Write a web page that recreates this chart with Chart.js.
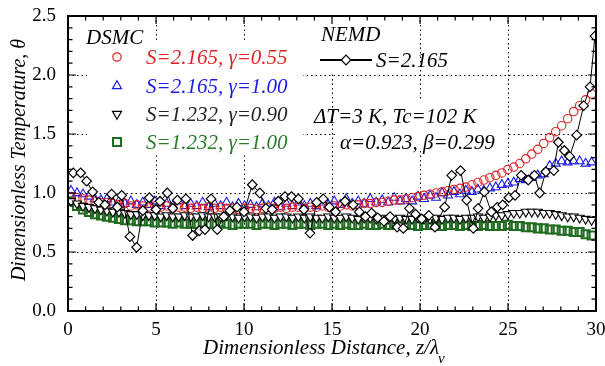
<!DOCTYPE html>
<html>
<head>
<meta charset="utf-8">
<script src="https://cdn.jsdelivr.net/npm/chart.js@4.4.0/dist/chart.umd.min.js"></script>
<style>
  html, body { margin: 0; padding: 0; background: #fff; }
</style>
</head>
<body>
<canvas id="chart" width="605" height="366"></canvas>
<script>
// DSMC sample positions (z / lambda_v)
const dsmcX = [
  0.17, 0.51, 0.85, 1.19, 1.53, 1.87, 2.21, 2.55, 2.89, 3.23,
  3.57, 3.91, 4.25, 4.59, 4.93, 5.27, 5.61, 5.95, 6.29, 6.63,
  6.97, 7.31, 7.65, 7.99, 8.33, 8.67, 9.01, 9.35, 9.69, 10.03,
  10.37, 10.71, 11.05, 11.39, 11.73, 12.07, 12.41, 12.75, 13.09, 13.43,
  13.77, 14.11, 14.45, 14.79, 15.13, 15.47, 15.81, 16.15, 16.49, 16.83,
  17.17, 17.51, 17.85, 18.19, 18.53, 18.87, 19.21, 19.55, 19.89, 20.23,
  20.57, 20.91, 21.25, 21.59, 21.93, 22.27, 22.61, 22.95, 23.29, 23.63,
  23.97, 24.31, 24.65, 24.99, 25.33, 25.67, 26.01, 26.35, 26.69, 27.03,
  27.37, 27.71, 28.05, 28.39, 28.73, 29.07, 29.41, 29.75
];

// S=2.165, gamma=0.55
const redY = [
  0.97, 0.96, 0.95, 0.94, 0.93, 0.92, 0.92, 0.91, 0.90, 0.91,
  0.89, 0.90, 0.89, 0.88, 0.89, 0.88, 0.89, 0.87, 0.88, 0.88,
  0.87, 0.88, 0.87, 0.88, 0.87, 0.88, 0.87, 0.87, 0.86, 0.87,
  0.87, 0.86, 0.87, 0.88, 0.87, 0.88, 0.87, 0.88, 0.88, 0.87,
  0.88, 0.88, 0.89, 0.88, 0.89, 0.89, 0.90, 0.89, 0.90, 0.91,
  0.91, 0.92, 0.92, 0.93, 0.94, 0.94, 0.95, 0.96, 0.97, 0.98,
  0.99, 1.00, 1.01, 1.02, 1.03, 1.04, 1.05, 1.07, 1.09, 1.11,
  1.13, 1.15, 1.17, 1.20, 1.22, 1.25, 1.29, 1.33, 1.37, 1.42,
  1.47, 1.52, 1.57, 1.63, 1.69, 1.74, 1.79, 1.84
];

// S=2.165, gamma=1.00
const blueY = [
  1.02, 1.00, 0.99, 0.97, 0.95, 0.94, 0.95, 0.92, 0.93, 0.91,
  0.93, 0.90, 0.92, 0.90, 0.93, 0.89, 0.91, 0.89, 0.93, 0.89,
  0.91, 0.89, 0.92, 0.88, 0.91, 0.89, 0.92, 0.88, 0.91, 0.89,
  0.90, 0.88, 0.91, 0.89, 0.92, 0.88, 0.91, 0.89, 0.92, 0.89,
  0.91, 0.89, 0.92, 0.90, 0.93, 0.90, 0.95, 0.91, 0.93, 0.91,
  0.95, 0.92, 0.94, 0.92, 0.96, 0.93, 0.95, 0.93, 0.97, 0.95,
  0.98, 0.96, 1.00, 0.98, 1.01, 0.99, 1.02, 1.01, 1.03, 1.02,
  1.04, 1.05, 1.07, 1.08, 1.09, 1.12, 1.11, 1.13, 1.15, 1.16,
  1.23, 1.25, 1.27, 1.26, 1.27, 1.27, 1.25, 1.26
];

// S=1.232, gamma=0.90
const blackY = [
  0.93, 0.91, 0.89, 0.88, 0.87, 0.86, 0.85, 0.84, 0.84, 0.83,
  0.82, 0.82, 0.81, 0.81, 0.81, 0.80, 0.81, 0.80, 0.80, 0.81,
  0.80, 0.80, 0.81, 0.80, 0.80, 0.80, 0.81, 0.80, 0.79, 0.80,
  0.80, 0.79, 0.80, 0.80, 0.79, 0.80, 0.80, 0.79, 0.80, 0.79,
  0.80, 0.79, 0.79, 0.80, 0.79, 0.79, 0.80, 0.79, 0.78, 0.79,
  0.79, 0.78, 0.79, 0.78, 0.78, 0.79, 0.78, 0.78, 0.79, 0.78,
  0.78, 0.79, 0.78, 0.79, 0.79, 0.78, 0.79, 0.79, 0.80, 0.79,
  0.80, 0.81, 0.81, 0.82, 0.83, 0.83, 0.84, 0.84, 0.84, 0.83,
  0.83, 0.82, 0.81, 0.80, 0.80, 0.79, 0.78, 0.77
];

// S=1.232, gamma=1.00
const greenY = [
  0.93, 0.89, 0.86, 0.84, 0.82, 0.81, 0.80, 0.79, 0.78, 0.77,
  0.77, 0.76, 0.76, 0.76, 0.75, 0.75, 0.75, 0.74, 0.75, 0.74,
  0.74, 0.74, 0.75, 0.74, 0.74, 0.75, 0.74, 0.73, 0.74, 0.74,
  0.74, 0.73, 0.74, 0.74, 0.73, 0.74, 0.74, 0.73, 0.74, 0.74,
  0.73, 0.74, 0.74, 0.73, 0.74, 0.73, 0.74, 0.73, 0.73, 0.74,
  0.73, 0.73, 0.74, 0.73, 0.73, 0.74, 0.73, 0.73, 0.72, 0.73,
  0.73, 0.73, 0.72, 0.73, 0.73, 0.72, 0.73, 0.72, 0.72, 0.73,
  0.72, 0.72, 0.72, 0.73, 0.72, 0.72, 0.71, 0.71, 0.70, 0.70,
  0.69, 0.69, 0.68, 0.68, 0.67, 0.67, 0.65, 0.64
];

// NEMD, S=2.165
const nemdX = [
  0.30, 0.72, 1.06, 1.40, 1.75, 2.10, 2.48, 2.80, 3.05, 3.52,
  3.90, 4.25, 4.62, 5.00, 5.23, 5.64, 5.95, 6.21, 6.70, 7.08,
  7.46, 7.78, 8.13, 8.48, 8.85, 9.20, 9.60, 10.00, 10.47, 10.90,
  11.25, 11.60, 11.95, 12.33, 12.70, 13.09, 13.40, 13.75, 14.13, 14.50,
  14.85, 15.20, 15.74, 16.20, 16.55, 16.90, 17.25, 17.60, 17.95, 18.30,
  18.70, 19.05, 19.40, 19.75, 20.10, 20.50, 20.85, 21.40, 21.80, 22.30,
  22.65, 23.03, 23.30, 23.65, 24.05, 24.40, 24.70, 25.05, 25.40, 25.75,
  26.15, 26.50, 26.80, 27.15, 27.60, 27.86, 28.20, 28.50, 28.90, 29.30,
  29.66, 29.94
];
const nemdY = [
  1.17, 1.17, 1.10, 1.01, 0.92, 0.90, 0.99, 0.88, 0.98, 0.63,
  0.54, 0.85, 0.96, 0.86, 0.93, 1.00, 0.87, 0.94, 0.95, 0.64,
  0.68, 0.69, 0.95, 0.69, 0.80, 0.85, 0.88, 0.84, 1.07, 1.00,
  0.87, 0.86, 0.93, 0.97, 0.97, 0.95, 0.86, 0.66, 0.92, 0.95,
  0.88, 0.84, 0.93, 0.90, 0.84, 0.80, 0.83, 0.79, 0.76, 0.80,
  0.71, 0.70, 0.87, 0.82, 0.78, 0.81, 0.71, 0.88, 1.15, 1.19,
  0.94, 0.70, 0.87, 1.01, 0.84, 0.88, 0.90, 0.96, 0.98, 1.15,
  1.11, 1.15, 1.00, 1.18, 1.19, 1.43, 1.36, 1.31, 1.49, 1.74,
  1.90, 2.33
];

const xTicks = [0, 5, 10, 15, 20, 25, 30];
const yTicks = [0.0, 0.5, 1.0, 1.5, 2.0, 2.5];

const RED = "#dc2323", BLUE = "#1a1ae6", GREEN = "#1f6b1f", GREEN_TXT = "#2a7a2a";
const SERIF = "'Liberation Serif', 'Times New Roman', serif";

function pts(xs, ys) {
  return xs.map((x, i) => ({ x: x, y: ys[i] }));
}

// white boxes behind the annotation text (hide the grid there)
const boxes = [
  [87, 43, 216, 112],
  [305, 18, 105, 54],
  [337, 100, 170, 50],
];

function mark(ctx, type, x, y, color) {
  ctx.save();
  ctx.strokeStyle = color;
  ctx.fillStyle = "#fff";
  ctx.lineWidth = 1.2;
  ctx.beginPath();
  if (type === "circle") {
    ctx.arc(x, y, 4.2, 0, Math.PI * 2);
    ctx.stroke();
  } else if (type === "up" || type === "down") {
    const r = 5.2, s = type === "up" ? 1 : -1;
    ctx.moveTo(x, y - s * r);
    ctx.lineTo(x + r * 0.866, y + s * r * 0.5);
    ctx.lineTo(x - r * 0.866, y + s * r * 0.5);
    ctx.closePath();
    if (type === "down") ctx.fill();
    ctx.stroke();
  } else if (type === "square") {
    ctx.lineWidth = 2;
    ctx.rect(x - 4, y - 4, 8, 8);
    ctx.stroke();
  } else if (type === "diamond") {
    ctx.moveTo(x, y - 4.8);
    ctx.lineTo(x + 4.8, y);
    ctx.lineTo(x, y + 4.8);
    ctx.lineTo(x - 4.8, y);
    ctx.closePath();
    ctx.fill();
    ctx.stroke();
  }
  ctx.restore();
}

const decor = {
  id: "decor",
  beforeDatasetsDraw(chart) {
    const { ctx, chartArea: a, scales } = chart;
    ctx.save();
    ctx.strokeStyle = "#000";
    ctx.lineWidth = 1;
    ctx.setLineDash([1.5, 3]);
    xTicks.forEach((v) => {
      if (v <= 0 || v >= 30) return;
      const px = Math.round(scales.x.getPixelForValue(v)) + 0.5;
      ctx.beginPath(); ctx.moveTo(px, a.top); ctx.lineTo(px, a.bottom); ctx.stroke();
    });
    yTicks.forEach((v) => {
      if (v <= 0 || v >= 2.5) return;
      const py = Math.round(scales.y.getPixelForValue(v)) + 0.5;
      ctx.beginPath(); ctx.moveTo(a.left, py); ctx.lineTo(a.right, py); ctx.stroke();
    });
    ctx.setLineDash([]);
    ctx.fillStyle = "#fff";
    boxes.forEach((b) => ctx.fillRect(b[0], b[1], b[2], b[3]));
    ctx.restore();
  },
  afterDraw(chart) {
    const { ctx, chartArea: a, scales } = chart;
    ctx.save();
    // frame
    ctx.strokeStyle = "#000";
    ctx.lineWidth = 2;
    ctx.strokeRect(a.left, a.top, a.right - a.left, a.bottom - a.top);
    // inward ticks, major and minor, on all four sides
    ctx.lineWidth = 1.2;
    for (let v = 0; v <= 30; v++) {
      const px = scales.x.getPixelForValue(v);
      const len = v % 5 === 0 ? 8 : 4.5;
      ctx.beginPath();
      ctx.moveTo(px, a.bottom); ctx.lineTo(px, a.bottom - len);
      ctx.moveTo(px, a.top); ctx.lineTo(px, a.top + len);
      ctx.stroke();
    }
    for (let k = 0; k <= 25; k++) {
      const py = scales.y.getPixelForValue(k / 10);
      const len = k % 5 === 0 ? 8 : 4.5;
      ctx.beginPath();
      ctx.moveTo(a.left, py); ctx.lineTo(a.left + len, py);
      ctx.moveTo(a.right, py); ctx.lineTo(a.right - len, py);
      ctx.stroke();
    }

    // axis titles
    ctx.fillStyle = "#000";
    ctx.font = "italic 20px " + SERIF;
    ctx.textBaseline = "middle";
    ctx.textAlign = "center";
    ctx.save();
    ctx.translate(20, 160);
    ctx.rotate(-Math.PI / 2);
    ctx.fillText("Dimensionless Temperature, \u03b8", 0, 0);
    ctx.restore();

    ctx.font = "italic 21px " + SERIF;
    const xt = "Dimensionless Distance, z/\u03bb";
    const w = ctx.measureText(xt).width;
    ctx.textAlign = "left";
    ctx.fillText(xt, 203, 348);
    ctx.font = "italic 15px " + SERIF;
    ctx.fillText("v", 203 + w - 1, 359);

    // DSMC legend
    ctx.font = "italic 21px " + SERIF;
    ctx.fillText("DSMC", 86, 38);
    const rows = [
      ["circle", RED, RED, "S=2.165, \u03b3=0.55", 57],
      ["up", BLUE, BLUE, "S=2.165, \u03b3=1.00", 86],
      ["down", "#000", "#222", "S=1.232, \u03b3=0.90", 114],
      ["square", GREEN, GREEN_TXT, "S=1.232, \u03b3=1.00", 142],
    ];
    rows.forEach((r) => {
      mark(ctx, r[0], 117, r[4], r[1]);
      ctx.fillStyle = r[2];
      ctx.fillText(r[3], 146, r[4] + 1);
    });

    // NEMD legend
    ctx.fillStyle = "#000";
    ctx.fillText("NEMD", 321, 35);
    ctx.strokeStyle = "#000";
    ctx.lineWidth = 1.8;
    ctx.beginPath(); ctx.moveTo(320, 60); ctx.lineTo(372, 60); ctx.stroke();
    mark(ctx, "diamond", 346, 60, "#000");
    ctx.fillText("S=2.165", 376, 61);

    ctx.fillText("\u0394T=3 K, Tc=102 K", 314, 117);
    ctx.fillText("\u03b1=0.923, \u03b2=0.299", 340, 143);
    ctx.restore();
  },
};

const tickFont = { family: SERIF, size: 19 };

new Chart(document.getElementById("chart"), {
  type: "scatter",
  data: {
    datasets: [
      {
        label: "NEMD S=2.165",
        data: pts(nemdX, nemdY),
        showLine: true,
        borderColor: "#000",
        borderWidth: 1,
        pointStyle: "rectRot",
        pointRadius: 4.8,
        pointBackgroundColor: "#fff",
        pointBorderColor: "#000",
        pointBorderWidth: 1.2,
        order: 0,
      },
      {
        label: "S=1.232, gamma=0.90",
        data: pts(dsmcX, blackY),
        pointStyle: "triangle",
        rotation: 180,
        pointRadius: 5.2,
        pointBackgroundColor: "#fff",
        pointBorderColor: "#000",
        pointBorderWidth: 1.1,
        order: 1,
      },
      {
        label: "S=2.165, gamma=0.55",
        data: pts(dsmcX, redY),
        pointStyle: "circle",
        pointRadius: 4.2,
        pointBackgroundColor: "rgba(0,0,0,0)",
        pointBorderColor: RED,
        pointBorderWidth: 1.1,
        order: 2,
      },
      {
        label: "S=2.165, gamma=1.00",
        data: pts(dsmcX, blueY),
        pointStyle: "triangle",
        pointRadius: 5.2,
        pointBackgroundColor: "rgba(0,0,0,0)",
        pointBorderColor: BLUE,
        pointBorderWidth: 1.1,
        order: 3,
      },
      {
        label: "S=1.232, gamma=1.00",
        data: pts(dsmcX, greenY),
        pointStyle: "rect",
        pointRadius: 5.7,
        pointBackgroundColor: "rgba(0,0,0,0)",
        pointBorderColor: GREEN,
        pointBorderWidth: 2,
        order: 4,
      },
    ],
  },
  options: {
    responsive: false,
    animation: false,
    layout: { padding: { top: 16, right: 9, left: 0, bottom: 0 } },
    plugins: { legend: { display: false }, tooltip: { enabled: false } },
    scales: {
      x: {
        type: "linear",
        min: 0,
        max: 30,
        afterBuildTicks: (s) => { s.ticks = xTicks.map((v) => ({ value: v })); },
        afterFit: (s) => { s.height = 55; s.paddingLeft = 0; s.paddingRight = 0; },
        grid: { display: false },
        border: { display: false },
        ticks: { font: tickFont, color: "#000", padding: 0, maxRotation: 0, callback: (v) => String(v) },
      },
      y: {
        min: 0,
        max: 2.5,
        afterBuildTicks: (s) => { s.ticks = yTicks.map((v) => ({ value: v })); },
        afterFit: (s) => { s.width = 68; s.paddingTop = 0; s.paddingBottom = 0; },
        grid: { display: false },
        border: { display: false },
        ticks: { font: tickFont, color: "#000", padding: 4, callback: (v) => Number(v).toFixed(1) },
      },
    },
  },
  plugins: [decor],
});
</script>
</body>
</html>
